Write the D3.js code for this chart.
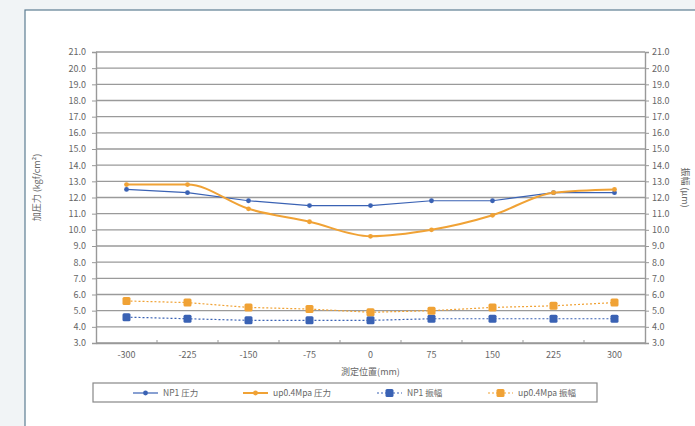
<!DOCTYPE html>
<html>
<head>
<meta charset="utf-8">
<script src="https://cdn.jsdelivr.net/npm/d3@7"></script>
<style>
  body { margin: 0; background: #fff; }
  text { font-family: "Noto Sans CJK JP", "DejaVu Sans", sans-serif; fill: #666; }
</style>
</head>
<body>
<div class="chart"></div>
<script>
const positions = ['-300', '-225', '-150', '-75', '0', '75', '150', '225', '300'];
const yTicks = d3.range(3, 21.01, 1);

const np1Pressure = [12.5, 12.3, 11.8, 11.5, 11.5, 11.8, 11.8, 12.3, 12.3];
const upPressure = [12.8, 12.8, 11.3, 10.5, 9.6, 10.0, 10.9, 12.3, 12.5];
const np1Amp = [4.6, 4.5, 4.4, 4.4, 4.4, 4.5, 4.5, 4.5, 4.5];
const upAmp = [5.6, 5.5, 5.2, 5.1, 4.9, 5.0, 5.2, 5.3, 5.5];

const seriesNames = ['NP1 圧力', 'up0.4Mpa 圧力', 'NP1 振幅', 'up0.4Mpa 振幅'];

const W = 695, H = 426;
const m = { left: 96, right: 645, top: 52, bottom: 343 };
const blue = '#3a62b4', orange = '#f0a235';

const svg = d3.select('.chart').append('svg')
  .attr('width', W).attr('height', H);

// backdrop and frame
svg.append('rect').attr('width', W).attr('height', H).attr('fill', '#f1f4f6');
svg.append('rect').attr('x', 25).attr('y', 10).attr('width', W).attr('height', H)
  .attr('fill', '#fff').attr('stroke', '#5d7d92').attr('stroke-width', 1.2);

const x = d3.scaleBand().domain(positions).range([m.left, m.right]);
const y = d3.scaleLinear().domain([3, 21]).range([m.bottom, m.top]);

// gridlines
svg.append('g').selectAll('line').data(yTicks).join('line')
  .attr('x1', m.left).attr('x2', m.right)
  .attr('y1', d => y(d)).attr('y2', d => y(d))
  .attr('stroke', '#9a9a9a').attr('stroke-width', 1.4);

const fmt = d3.format('.1f');
const yLeft = svg.append('g').attr('transform', `translate(${m.left},0)`)
  .call(d3.axisLeft(y).tickValues(yTicks).tickFormat(fmt).tickSize(4).tickPadding(6));
const yRight = svg.append('g').attr('transform', `translate(${m.right},0)`)
  .call(d3.axisRight(y).tickValues(yTicks).tickFormat(fmt).tickSize(4).tickPadding(3));
const xAxis = svg.append('g').attr('transform', `translate(0,${m.bottom})`)
  .call(d3.axisBottom(x).tickSize(0).tickPadding(9));

// category boundary ticks
svg.append('g').selectAll('line').data(positions.slice(1)).join('line')
  .attr('x1', d => x(d)).attr('x2', d => x(d))
  .attr('y1', m.bottom).attr('y2', m.bottom - 3)
  .attr('stroke', '#999');

[yLeft, yRight, xAxis].forEach(g => {
  g.selectAll('path, line').attr('stroke', '#999');
  g.select('.domain').attr('stroke-width', 1.4);
  g.selectAll('text').attr('font-size', 9).attr('fill', '#777');
});

// series
const cx = (d, i) => x(positions[i]) + x.bandwidth() / 2;
const series = [
  { name: seriesNames[0], values: np1Pressure, color: blue, width: 1.2, dash: null, curve: d3.curveLinear, shape: 'dot' },
  { name: seriesNames[1], values: upPressure, color: orange, width: 2, dash: null, curve: d3.curveMonotoneX, shape: 'dot' },
  { name: seriesNames[2], values: np1Amp, color: blue, width: 1.2, dash: '2,2', curve: d3.curveLinear, shape: 'square' },
  { name: seriesNames[3], values: upAmp, color: orange, width: 1.2, dash: '2,2', curve: d3.curveLinear, shape: 'square' }
];

series.forEach(s => {
  const line = d3.line().x(cx).y(d => y(d)).curve(s.curve);
  svg.append('path').datum(s.values)
    .attr('d', line).attr('fill', 'none')
    .attr('stroke', s.color).attr('stroke-width', s.width)
    .attr('stroke-dasharray', s.dash);
  const g = svg.append('g');
  if (s.shape === 'dot') {
    g.selectAll('circle').data(s.values).join('circle')
      .attr('cx', cx).attr('cy', d => y(d)).attr('r', 2.4).attr('fill', s.color);
  } else {
    g.selectAll('rect').data(s.values).join('rect')
      .attr('x', (d, i) => cx(d, i) - 4).attr('y', d => y(d) - 4)
      .attr('width', 8).attr('height', 8).attr('rx', 1.5).attr('fill', s.color);
  }
});

// axis titles
svg.append('text')
  .attr('transform', `translate(40,${(m.top + m.bottom) / 2 - 10}) rotate(-90)`)
  .attr('text-anchor', 'middle').attr('font-size', 9).attr('fill', '#666')
  .text('加圧力 (kgf/cm²)');
svg.append('text')
  .attr('transform', `translate(682,${(m.top + m.bottom) / 2 - 10}) rotate(90)`)
  .attr('text-anchor', 'middle').attr('font-size', 9).attr('fill', '#666')
  .text('振幅 (μm)');
svg.append('text')
  .attr('x', (m.left + m.right) / 2).attr('y', 375)
  .attr('text-anchor', 'middle').attr('font-size', 9).attr('fill', '#666')
  .text('測定位置(mm)');

// legend
const legend = svg.append('g');
legend.append('rect').attr('x', 93).attr('y', 383).attr('width', 504).attr('height', 19)
  .attr('fill', '#fff').attr('stroke', '#888').attr('stroke-width', 1.2);
const legendX = [133, 243, 377, 488];
series.forEach((s, i) => {
  const g = legend.append('g').attr('transform', `translate(${legendX[i]},393)`);
  g.append('line').attr('x1', 0).attr('x2', 25)
    .attr('stroke', s.color).attr('stroke-width', s.width)
    .attr('stroke-dasharray', s.dash);
  if (s.shape === 'dot') {
    g.append('circle').attr('cx', 12.5).attr('r', 2.4).attr('fill', s.color);
  } else {
    g.append('rect').attr('x', 8.5).attr('y', -4).attr('width', 8).attr('height', 8)
      .attr('rx', 1.5).attr('fill', s.color);
  }
  g.append('text').attr('x', 30).attr('y', 3).attr('font-size', 8.5).attr('fill', '#666')
    .text(s.name);
});
</script>
</body>
</html>
